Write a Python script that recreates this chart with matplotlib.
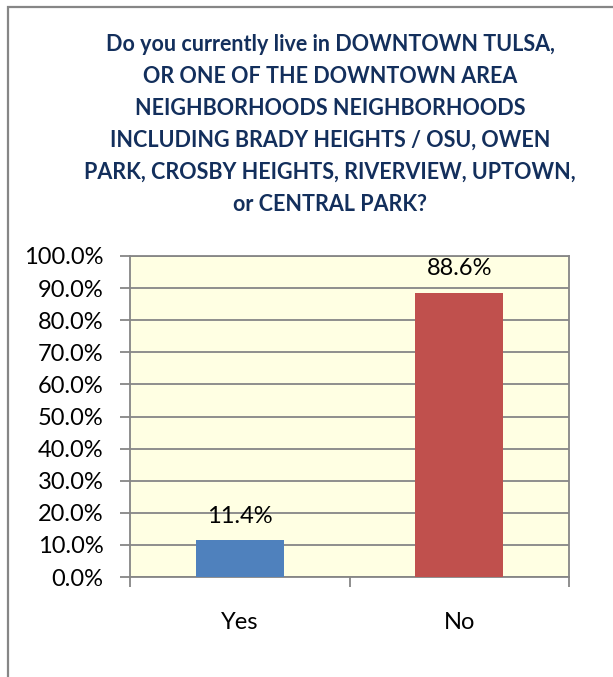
import matplotlib.pyplot as plt
from matplotlib.patches import Rectangle
from matplotlib.ticker import PercentFormatter

categories = ["Yes", "No"]
shares = [11.4, 88.6]
bar_colors = ["#4F81BD", "#C0504D"]
title = ("Do you currently live in DOWNTOWN TULSA,\n"
         "OR ONE OF THE DOWNTOWN AREA\n"
         "NEIGHBORHOODS NEIGHBORHOODS\n"
         "INCLUDING BRADY HEIGHTS / OSU, OWEN\n"
         "PARK, CROSBY HEIGHTS, RIVERVIEW, UPTOWN,\n"
         "or CENTRAL PARK?")

plt.rcParams['font.family'] = ['Lato', 'DejaVu Sans']

W, H = 613, 677
fig = plt.figure(figsize=(W / 100, H / 100), dpi=100)
fig.patch.set_facecolor("white")

# chart frame, open on the right and bottom
fig.patches.append(Rectangle((8 / W, -0.1), 1.2, (H - 7) / H + 0.1,
                             transform=fig.transFigure, fill=False,
                             edgecolor="#868686", linewidth=1.6))

fig.text(330 / W, 1 - 34 / H, title, ha="center", va="top",
         fontsize=15.5, fontweight="bold", color="#132F5C",
         linespacing=1.65, transform=fig.transFigure)

left, right, top, bottom = 130, 569, 256, 577
ax = fig.add_axes([left / W, 1 - bottom / H, (right - left) / W, (bottom - top) / H])
ax.set_facecolor("#FFFFE3")

x = range(len(categories))
bars = ax.bar(x, shares, width=0.4, color=bar_colors, zorder=3)
for b, v in zip(bars, shares):
    ax.annotate(f"{v:.1f}%", (b.get_x() + b.get_width() / 2, v),
                xytext=(0, 10), textcoords="offset points",
                ha="center", va="bottom", fontsize=17)

ax.set_xlim(-0.5, 1.5)
ax.set_ylim(0, 100)
ax.set_yticks(range(0, 101, 10))
ax.yaxis.set_major_formatter(PercentFormatter(decimals=1))
ax.grid(axis="y", color="#868686", linewidth=1.3, zorder=1)
ax.set_axisbelow(True)

ax.set_xticks([-0.5, 0.5, 1.5])
ax.set_xticklabels([])
ax.set_xticks(list(x), minor=True)
ax.set_xticklabels(categories, minor=True)
ax.tick_params(axis="x", which="major", length=7, color="#868686", width=1.3)
ax.tick_params(axis="x", which="minor", length=0, pad=25, labelsize=17)
ax.tick_params(axis="y", length=7, color="#868686", width=1.3, labelsize=17, pad=12)

for s in ax.spines.values():
    s.set_color("#868686")
    s.set_linewidth(1.3)

fig.savefig("out.png", dpi=100)
